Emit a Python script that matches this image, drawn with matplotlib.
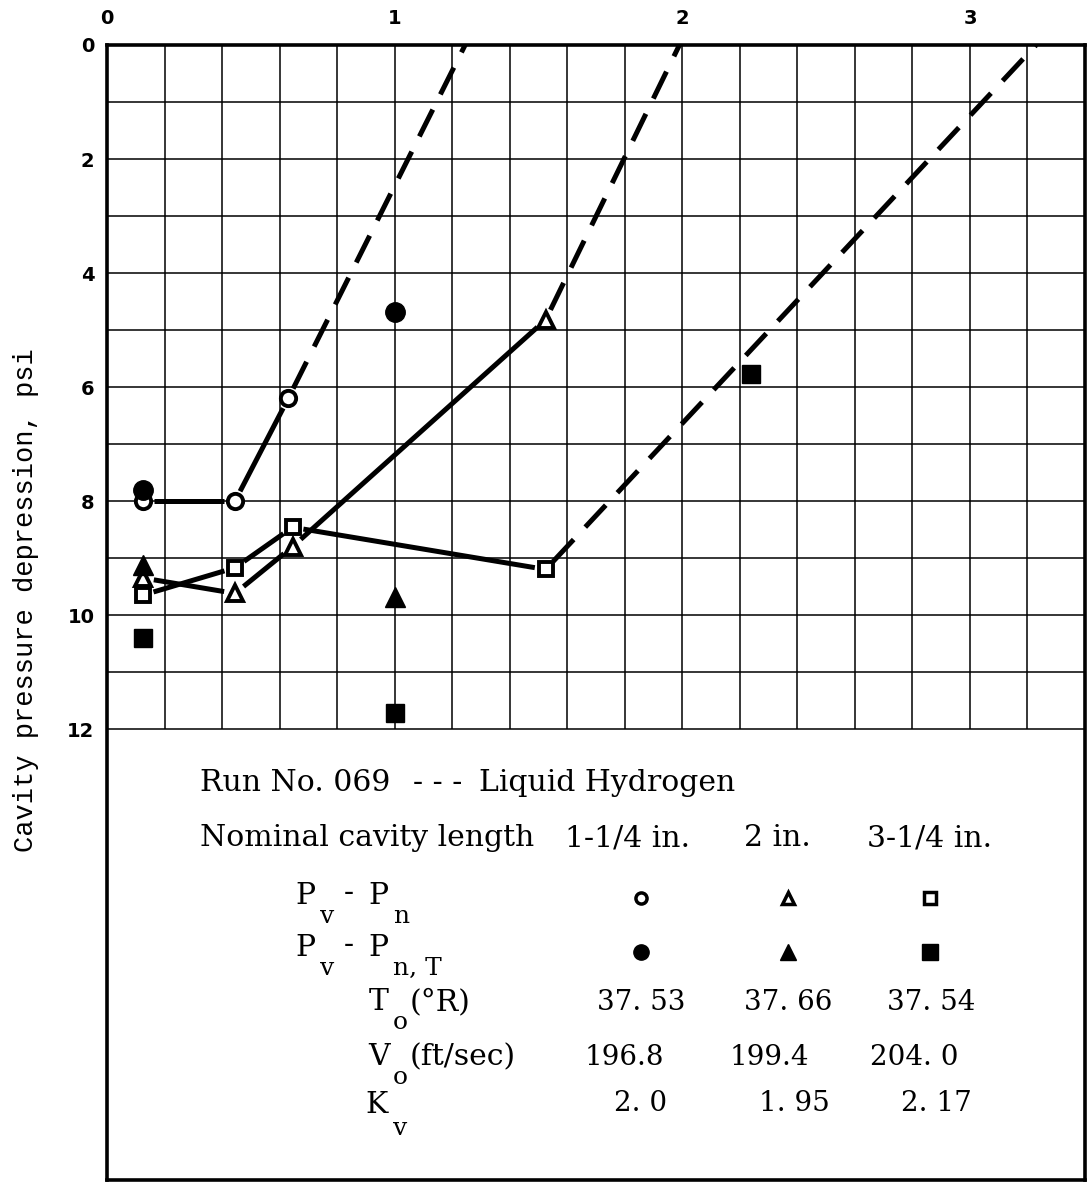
import numpy as np
import matplotlib
matplotlib.use("Agg")
import matplotlib.pyplot as plt

# Open symbols: P_v - P_n for the three cavity lengths
circ_x = [0.125, 0.445, 0.63]
circ_y = [8.0, 8.0, 6.2]
tri_x = [0.125, 0.445, 0.645, 1.525]
tri_y = [9.35, 9.62, 8.8, 4.82]
sq_x = [0.125, 0.445, 0.645, 1.525]
sq_y = [9.65, 9.17, 8.46, 9.2]

# Dashed extrapolations up to zero depression
circ_ext_x = [0.63, 1.245]
circ_ext_y = [6.2, 0.0]
tri_ext_x = [1.525, 1.99]
tri_ext_y = [4.82, 0.0]
sq_ext_x = [1.525, 3.23]
sq_ext_y = [9.2, 0.0]

# Filled symbols: P_v - P_n,T
fcirc_x = [0.125, 1.0]
fcirc_y = [7.8, 4.68]
ftri_x = [0.125, 1.0]
ftri_y = [9.12, 9.68]
fsq_x = [0.125, 1.0, 2.24]
fsq_y = [10.4, 11.72, 5.78]

x_ticks = [0, 1, 2, 3]
y_ticks = [0, 2, 4, 6, 8, 10, 12]

lengths = ["1-1/4 in.", "2 in.", "3-1/4 in."]
temps = ["37. 53", "37. 66", "37. 54"]
speeds = ["196.8", "199.4", "204. 0"]
kv = ["2. 0", "1. 95", "2. 17"]

fig = plt.figure(figsize=(10.88, 11.92), dpi=100)
ax = fig.add_axes([107 / 1088, 1 - 1180 / 1192, 978 / 1088, 1135 / 1192])
ax.set_xlim(0, 3.4)
ax.set_ylim(19.91, 0)

# graph paper grid, only over the plotting area
ax.vlines(np.arange(0.2, 3.39, 0.2), 0, 12, color="black", lw=1.1)
ax.hlines(np.arange(1, 13, 1), 0, 3.4, color="black", lw=1.1)

for s in ax.spines.values():
    s.set_linewidth(2.6)

ax.xaxis.tick_top()
ax.set_xticks(x_ticks)
ax.set_xticklabels([str(v) for v in x_ticks], fontsize=14, fontweight="bold")
ax.set_yticks(y_ticks)
ax.set_yticklabels([str(v) for v in y_ticks], fontsize=14, fontweight="bold")
ax.tick_params(axis="x", length=0, pad=12)
ax.tick_params(axis="y", length=0, pad=9)

fig.canvas.draw()


def segments(x, y, gaps=(11, 11), **kw):
    # draw a polyline whose pieces stop short of the symbols
    pts = ax.transData.transform(np.column_stack([x, y]))
    inv = ax.transData.inverted()
    for p0, p1 in zip(pts[:-1], pts[1:]):
        d = p1 - p0
        u = d / np.hypot(*d)
        a = p0 + u * gaps[0]
        b = p1 - u * gaps[1]
        xs, ys = inv.transform(np.array([a, b])).T
        ax.plot(xs, ys, color="black", solid_capstyle="butt", **kw)


lw = 3.6
segments(circ_x, circ_y, lw=lw)
segments(tri_x, tri_y, lw=lw)
segments(sq_x, sq_y, lw=lw)
for ex, ey in [(circ_ext_x, circ_ext_y), (tri_ext_x, tri_ext_y), (sq_ext_x, sq_ext_y)]:
    segments(ex, ey, gaps=(11, 0), lw=lw, dashes=(6, 3.4))

open_kw = dict(ls="none", color="black", mfc="white", ms=11, mew=2.8, zorder=5)
ax.plot(circ_x, circ_y, marker="o", **open_kw)
ax.plot(tri_x, tri_y, marker="^", **open_kw)
ax.plot(sq_x, sq_y, marker="s", **dict(open_kw, ms=10.5))

fill_kw = dict(ls="none", color="black", ms=14, zorder=6)
ax.plot(fcirc_x, fcirc_y, marker="o", **fill_kw)
ax.plot(ftri_x, ftri_y, marker="^", **fill_kw)
ax.plot(fsq_x, fsq_y, marker="s", **dict(fill_kw, ms=13))


# legend block below the grid, placed in pixel units of the page
def X(px):
    return (px - 107) / 288.0


def Y(py):
    return (py - 45) / 57.0


serif = dict(family="DejaVu Serif", fontsize=21.5, va="center", color="black")
sub = dict(family="DejaVu Serif", fontsize=18, va="center", color="black")
num = dict(family="DejaVu Serif", fontsize=20, va="center", color="black")

ax.text(X(200), Y(783), "Run No. 069", ha="left", **serif)
ax.text(X(413), Y(783), "- - -", ha="left", **serif)
ax.text(X(479), Y(783), "Liquid Hydrogen", ha="left", **serif)
ax.text(X(200), Y(838), "Nominal cavity length", ha="left", **serif)
for cx, lab in zip([566, 745, 868], lengths):
    ax.text(X(cx), Y(838), lab, ha="left", **serif)

# P_v - P_n
ax.text(X(296), Y(896), "P", ha="left", **serif)
ax.text(X(320), Y(916), "v", ha="left", **sub)
ax.text(X(344), Y(893), "-", ha="left", **serif)
ax.text(X(369), Y(896), "P", ha="left", **serif)
ax.text(X(393), Y(916), "n", ha="left", **sub)
# P_v - P_n,T
ax.text(X(296), Y(948), "P", ha="left", **serif)
ax.text(X(320), Y(968), "v", ha="left", **sub)
ax.text(X(344), Y(945), "-", ha="left", **serif)
ax.text(X(369), Y(948), "P", ha="left", **serif)
ax.text(X(393), Y(968), "n, T", ha="left", **sub)
# T_o, V_o, K_v
ax.text(X(369), Y(1002), "T", ha="left", **serif)
ax.text(X(393), Y(1022), "o", ha="left", **sub)
ax.text(X(410), Y(1002), "(°R)", ha="left", **serif)
ax.text(X(369), Y(1057), "V", ha="left", **serif)
ax.text(X(393), Y(1077), "o", ha="left", **sub)
ax.text(X(410), Y(1057), "(ft/sec)", ha="left", **serif)
ax.text(X(366), Y(1105), "K", ha="left", **serif)
ax.text(X(393), Y(1128), "v", ha="left", **sub)

col_x = [642, 789, 931]
leg_open = dict(ls="none", color="black", mfc="white", ms=8, mew=2.5)
leg_fill = dict(ls="none", color="black", ms=11)
for cx, m in zip(col_x, ["o", "^", "s"]):
    ax.plot([X(cx)], [Y(898)], marker=m, **leg_open)
    ax.plot([X(cx)], [Y(952)], marker=m, **leg_fill)

for cx, t in zip([642, 789, 932], temps):
    ax.text(X(cx), Y(1002), t, ha="center", **num)
for cx, t in zip([625, 770, 915], speeds):
    ax.text(X(cx), Y(1057), t, ha="center", **num)
for cx, t in zip([641, 795, 937], kv):
    ax.text(X(cx), Y(1103), t, ha="center", **num)

fig.text(26 / 1088, 1 - 600 / 1192, "Cavity pressure depression, psi",
         rotation=90, family="Liberation Mono", fontsize=19.5,
         ha="center", va="center")

fig.savefig("out.png", dpi=100)
